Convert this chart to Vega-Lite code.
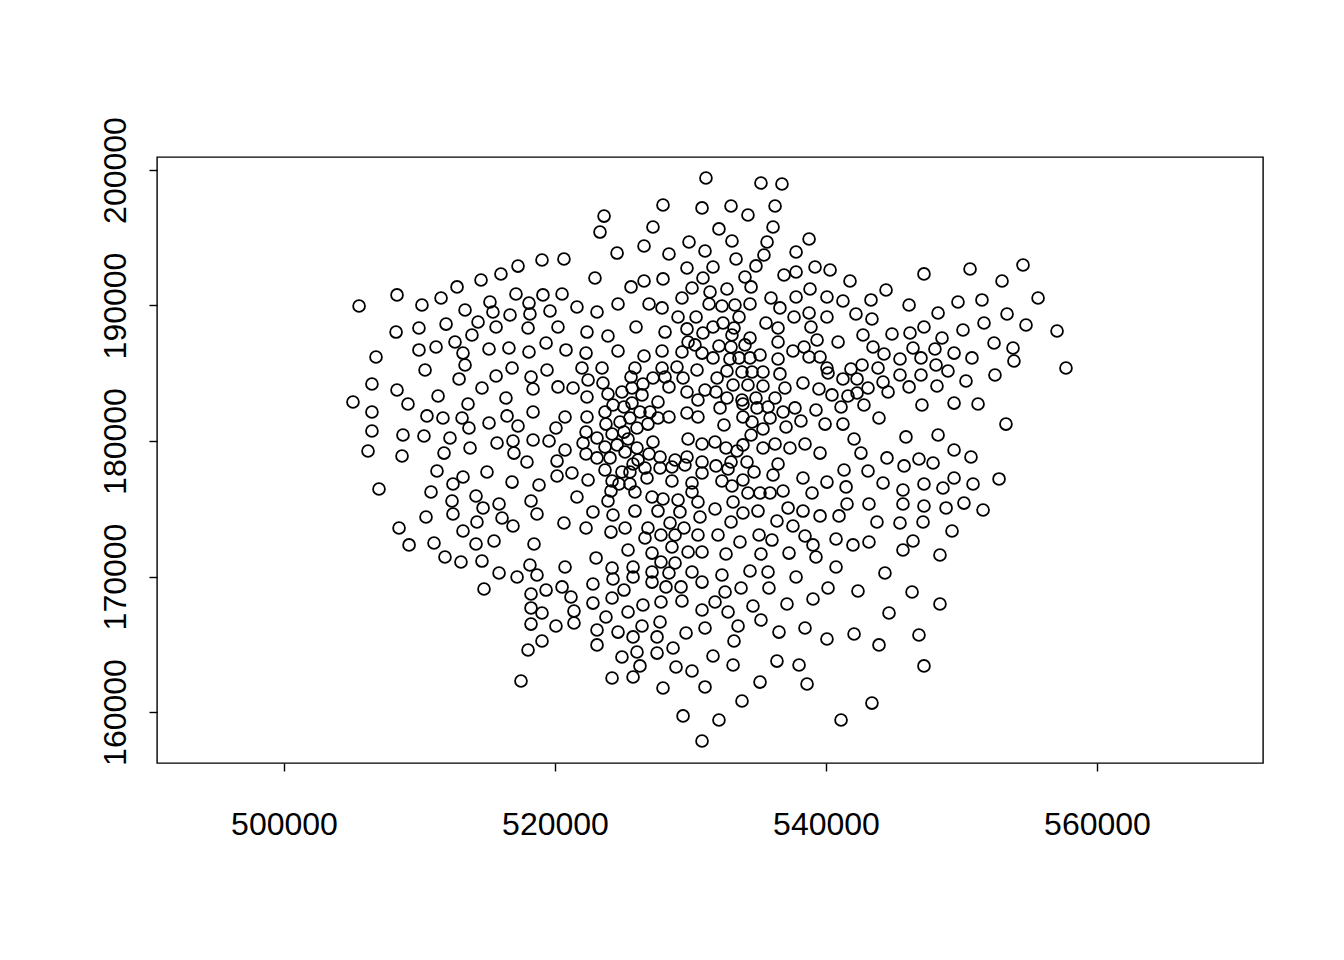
{
"$schema":"https://vega.github.io/schema/vega-lite/v6.json",
"width":1106,"height":606,
"autosize":{"type":"none"},
"padding":{"left":157,"top":157,"right":81,"bottom":197},
"background":"white",
"config":{"view":{"stroke":"black","strokeWidth":1.4},"axis":{"grid":false,"domain":false,"tickColor":"black","tickSize":8,"tickWidth":1.4,"labelColor":"black","labelFont":"Liberation Sans","labelFontSize":32}},
"data":{"values":[
{"x":517270,"y":192910},{"x":516010,"y":192325},{"x":514540,"y":191880},{"x":512770,"y":191370},{"x":508340,"y":190780},{"x":511590,"y":190550},{"x":510180,"y":190040},{"x":505540,"y":189960},{"x":517120,"y":190850},{"x":515200,"y":190260},{"x":513360,"y":189670},{"x":515420,"y":189520},{"x":516680,"y":189300},{"x":511960,"y":188630},{"x":514320,"y":188780},{"x":509960,"y":188340},{"x":515650,"y":188410},{"x":508270,"y":188040},{"x":513870,"y":187820},{"x":512620,"y":187310},{"x":511220,"y":186940},{"x":509960,"y":186720},{"x":515130,"y":186790},{"x":516600,"y":186860},{"x":513210,"y":186490},{"x":506790,"y":186200},
{"x":531140,"y":199410},{"x":527970,"y":197420},{"x":530850,"y":197200},{"x":523620,"y":196600},{"x":527230,"y":195790},{"x":523320,"y":195420},{"x":529890,"y":194690},{"x":526570,"y":194390},{"x":524580,"y":193870},{"x":528410,"y":193800},{"x":531070,"y":194020},{"x":519040,"y":193360},{"x":520660,"y":193430},{"x":529740,"y":192770},{"x":522950,"y":192030},{"x":526570,"y":191810},{"x":527970,"y":191960},{"x":530920,"y":192030},{"x":525610,"y":191370},{"x":530110,"y":191290},{"x":519110,"y":190780},{"x":520520,"y":190850},{"x":518080,"y":190180},{"x":518150,"y":189370},{"x":529370,"y":190550},{"x":531440,"y":191000},{"x":521620,"y":189890},{"x":523100,"y":189520},{"x":524650,"y":190110},{"x":526940,"y":190110},{"x":527900,"y":189820},{"x":519630,"y":189590},{"x":531370,"y":190110},{"x":529080,"y":189150},{"x":530410,"y":189150},{"x":518010,"y":188340},{"x":520220,"y":188410},{"x":522360,"y":188040},{"x":523910,"y":187750},{"x":525980,"y":188410},{"x":528120,"y":188040},{"x":529740,"y":188270},{"x":530920,"y":187970},{"x":519340,"y":187230},{"x":518080,"y":186570},{"x":520810,"y":186720},{"x":522290,"y":186490},{"x":524650,"y":186640},{"x":526570,"y":186270},{"x":527900,"y":186640},{"x":529370,"y":186570},{"x":529820,"y":187310},{"x":530330,"y":187090},{"x":530850,"y":186490},
{"x":535200,"y":199040},{"x":536750,"y":198970},{"x":532990,"y":197340},{"x":534240,"y":196680},{"x":536240,"y":197340},{"x":532100,"y":195650},{"x":536090,"y":195790},{"x":533060,"y":194760},{"x":535650,"y":194690},{"x":538750,"y":194910},{"x":537790,"y":193950},{"x":535420,"y":193730},{"x":533360,"y":193430},{"x":531660,"y":192840},{"x":534830,"y":192920},{"x":539190,"y":192840},{"x":540300,"y":192620},{"x":537790,"y":192470},{"x":536900,"y":192250},{"x":541770,"y":191810},{"x":534020,"y":192100},{"x":534470,"y":191370},{"x":532690,"y":191220},{"x":544430,"y":191140},{"x":538820,"y":191220},{"x":540070,"y":190630},{"x":535940,"y":190550},{"x":537790,"y":190630},{"x":541250,"y":190330},{"x":543320,"y":190410},{"x":534390,"y":190110},{"x":533280,"y":190040},{"x":532320,"y":189960},{"x":536600,"y":189820},{"x":538750,"y":189450},{"x":533580,"y":189150},{"x":537640,"y":189150},{"x":540070,"y":189150},{"x":542210,"y":189370},{"x":543390,"y":189000},{"x":532400,"y":188710},{"x":535570,"y":188710},{"x":531660,"y":188410},{"x":533210,"y":188340},{"x":536460,"y":188340},{"x":538890,"y":188410},{"x":533060,"y":187820},{"x":534390,"y":187600},{"x":542730,"y":187820},{"x":544870,"y":187900},{"x":539340,"y":187450},{"x":540890,"y":187310},{"x":536460,"y":187310},{"x":532100,"y":187010},{"x":532990,"y":186940},{"x":534020,"y":187090},{"x":538380,"y":186940},{"x":543470,"y":186940},{"x":537560,"y":186640},{"x":544280,"y":186420},{"x":535130,"y":186350},{"x":531660,"y":186130},{"x":532910,"y":186050},{"x":533580,"y":186130},{"x":534390,"y":186130},{"x":536460,"y":186050},{"x":538750,"y":186200},{"x":539560,"y":186200},
{"x":547230,"y":192330},{"x":550630,"y":192690},{"x":554540,"y":192990},{"x":552990,"y":191810},{"x":546130,"y":190040},{"x":549740,"y":190260},{"x":551510,"y":190410},{"x":555650,"y":190550},{"x":548270,"y":189450},{"x":553360,"y":189370},{"x":546200,"y":187970},{"x":547230,"y":188410},{"x":548560,"y":187600},{"x":550110,"y":188190},{"x":551660,"y":188710},{"x":554760,"y":188560},{"x":557050,"y":188120},{"x":546420,"y":186860},{"x":548040,"y":186790},{"x":549450,"y":186490},{"x":552400,"y":187230},{"x":553800,"y":186860},{"x":545460,"y":186050},{"x":547010,"y":186130},{"x":550770,"y":186130},{"x":553870,"y":185900},{"x":548120,"y":185610},
{"x":510410,"y":185240},{"x":513360,"y":185610},{"x":516830,"y":185390},{"x":506490,"y":184210},{"x":508340,"y":183760},{"x":512920,"y":184580},{"x":515650,"y":184800},{"x":514610,"y":183910},{"x":505090,"y":182880},{"x":509150,"y":182730},{"x":511370,"y":183320},{"x":513580,"y":182730},{"x":516380,"y":183170},{"x":506490,"y":182140},{"x":510550,"y":181850},{"x":511730,"y":181700},{"x":513140,"y":181700},{"x":515130,"y":181330},{"x":516460,"y":181850},{"x":517270,"y":181110},{"x":513650,"y":180960},{"x":506490,"y":180740},{"x":508780,"y":180440},{"x":510330,"y":180370},{"x":512250,"y":180220},{"x":515720,"y":179850},{"x":516900,"y":180000},{"x":506200,"y":179260},{"x":508710,"y":178890},{"x":511810,"y":179110},{"x":513730,"y":179480},{"x":516970,"y":179110},{"x":511290,"y":177790},{"x":514980,"y":177710},{"x":513210,"y":177340},{"x":512470,"y":176830},{"x":516830,"y":176970},{"x":507010,"y":176460},{"x":510850,"y":176240},{"x":514170,"y":175940},{"x":512400,"y":175570},{"x":514690,"y":175060},{"x":515870,"y":175350},{"x":510480,"y":174390},{"x":512470,"y":174610},{"x":514240,"y":174020},{"x":516090,"y":174320},{"x":516900,"y":173730},{"x":508490,"y":173580},{"x":513210,"y":173360},{"x":509230,"y":172330},{"x":511070,"y":172470},{"x":514170,"y":172400},{"x":515500,"y":172620},{"x":511880,"y":171440},{"x":513060,"y":171070},{"x":514610,"y":171140},
{"x":515870,"y":170260},{"x":517200,"y":169960},{"x":514760,"y":169080},{"x":517490,"y":162290},
{"x":519410,"y":185240},{"x":521990,"y":185390},{"x":523470,"y":185390},{"x":525900,"y":185390},{"x":527900,"y":185390},{"x":529000,"y":185460},{"x":530480,"y":185240},{"x":518230,"y":184720},{"x":518380,"y":183840},{"x":520220,"y":183990},{"x":521330,"y":183910},{"x":522440,"y":184500},{"x":523540,"y":184280},{"x":525610,"y":184720},{"x":526490,"y":184210},{"x":527230,"y":184650},{"x":528120,"y":184720},{"x":528410,"y":183990},{"x":529450,"y":184650},{"x":529740,"y":183620},{"x":531070,"y":183760},{"x":522360,"y":183250},{"x":523910,"y":183470},{"x":524940,"y":183620},{"x":525680,"y":183910},{"x":526420,"y":183400},{"x":527600,"y":182880},{"x":530550,"y":183030},{"x":518380,"y":182140},{"x":520740,"y":181770},{"x":522360,"y":181770},{"x":523690,"y":182140},{"x":524280,"y":182660},{"x":525090,"y":182510},{"x":525680,"y":182800},{"x":526270,"y":182140},{"x":527010,"y":182140},{"x":528410,"y":181770},{"x":529740,"y":182070},{"x":530550,"y":181770},{"x":520070,"y":180960},{"x":522290,"y":180660},{"x":523760,"y":181250},{"x":524800,"y":181400},{"x":525530,"y":181700},{"x":526050,"y":180960},{"x":526860,"y":181250},{"x":527600,"y":181700},{"x":518380,"y":180070},{"x":519560,"y":180000},{"x":520740,"y":179340},{"x":522070,"y":179850},{"x":523100,"y":180220},{"x":524210,"y":180520},{"x":525090,"y":180660},{"x":525390,"y":180150},{"x":527230,"y":179930},{"x":529820,"y":180150},{"x":530850,"y":179780},{"x":517930,"y":178450},{"x":520150,"y":178520},{"x":522290,"y":179040},{"x":523100,"y":178750},{"x":523690,"y":179560},{"x":524060,"y":178750},{"x":524580,"y":179710},{"x":525170,"y":179190},{"x":526050,"y":179480},{"x":526130,"y":178600},{"x":526940,"y":179040},{"x":527750,"y":178820},{"x":528860,"y":178600},{"x":529740,"y":178820},{"x":530850,"y":178450},{"x":520150,"y":177420},{"x":521250,"y":177640},{"x":522440,"y":177120},{"x":523690,"y":177860},{"x":524940,"y":177710},{"x":525760,"y":178300},{"x":525530,"y":177710},{"x":526640,"y":178010},{"x":527750,"y":178010},{"x":528630,"y":178080},{"x":529590,"y":178230},{"x":530850,"y":177640},{"x":518820,"y":176750},{"x":521620,"y":175870},{"x":524210,"y":177050},{"x":524720,"y":176830},{"x":525530,"y":176830},{"x":526790,"y":177270},{"x":528630,"y":177050},{"x":530110,"y":176900},{"x":518230,"y":175570},{"x":518670,"y":174610},{"x":520660,"y":173950},{"x":522800,"y":174760},{"x":523910,"y":175570},{"x":524130,"y":176310},{"x":525900,"y":176240},{"x":527160,"y":175870},{"x":527970,"y":175720},{"x":529080,"y":175650},{"x":530110,"y":176240},{"x":530550,"y":175500},{"x":522290,"y":173580},{"x":524130,"y":173280},{"x":524280,"y":174540},{"x":525900,"y":174830},{"x":526860,"y":173580},{"x":527600,"y":174830},{"x":528490,"y":173950},{"x":529220,"y":174760},{"x":529520,"y":173580},{"x":530700,"y":174390},{"x":525170,"y":173580},{"x":527820,"y":173060},{"x":528860,"y":173060},{"x":530550,"y":173060},{"x":518450,"y":172400},{"x":523030,"y":171370},{"x":525390,"y":171960},{"x":526640,"y":172840},{"x":527160,"y":171730},{"x":528630,"y":172180},{"x":529820,"y":171810},{"x":530850,"y":171810},
{"x":518150,"y":170850},{"x":520740,"y":170700},{"x":524210,"y":170630},{"x":525760,"y":170700},{"x":527160,"y":170330},{"x":527820,"y":171070},{"x":528860,"y":171000},{"x":530110,"y":170330},{"x":530850,"y":169590},{"x":518670,"y":170110},{"x":520520,"y":169230},{"x":522800,"y":169450},{"x":524280,"y":169820},{"x":525760,"y":169960},{"x":527160,"y":169590},{"x":528410,"y":170260},{"x":528190,"y":169230},{"x":529300,"y":169230},{"x":518230,"y":168710},{"x":519340,"y":169000},{"x":521180,"y":168490},{"x":522800,"y":168040},{"x":524210,"y":168410},{"x":525090,"y":169000},{"x":526490,"y":167900},{"x":527820,"y":168120},{"x":529370,"y":168190},{"x":530850,"y":167530},{"x":518230,"y":167680},{"x":519040,"y":167310},{"x":521400,"y":167450},{"x":525390,"y":167380},{"x":523760,"y":167010},{"x":518230,"y":166490},{"x":520070,"y":166350},{"x":521400,"y":166570},{"x":523100,"y":166050},{"x":524650,"y":165900},{"x":526420,"y":166350},{"x":527750,"y":166640},{"x":531070,"y":166200},{"x":525760,"y":165540},{"x":527530,"y":165540},{"x":529670,"y":165830},{"x":519040,"y":165240},{"x":523100,"y":164950},{"x":518010,"y":164580},{"x":526050,"y":164430},{"x":527530,"y":164350},{"x":528710,"y":164720},{"x":524940,"y":164060},{"x":526270,"y":163400},{"x":528930,"y":163320},{"x":530110,"y":163030},{"x":524210,"y":162510},{"x":525760,"y":162580},{"x":531070,"y":161850},{"x":527970,"y":161770},{"x":529450,"y":159710},{"x":530850,"y":157860},
{"x":532690,"y":185170},{"x":533800,"y":185090},{"x":534540,"y":185090},{"x":535350,"y":185090},{"x":536600,"y":184950},{"x":531960,"y":184650},{"x":533140,"y":184130},{"x":534240,"y":184130},{"x":535350,"y":184060},{"x":536970,"y":183910},{"x":531880,"y":183620},{"x":532690,"y":183170},{"x":533800,"y":183030},{"x":534830,"y":183170},{"x":536240,"y":183170},{"x":532180,"y":182440},{"x":533870,"y":182730},{"x":534910,"y":182440},{"x":535720,"y":182510},{"x":537710,"y":182440},{"x":536830,"y":182140},{"x":533870,"y":181770},{"x":534540,"y":181400},{"x":535870,"y":181700},{"x":538150,"y":181480},{"x":532470,"y":181180},{"x":535350,"y":180890},{"x":537050,"y":181030},{"x":534470,"y":180440},{"x":531810,"y":179930},{"x":532620,"y":179480},{"x":533430,"y":179260},{"x":533870,"y":179710},{"x":535350,"y":179480},{"x":536240,"y":179780},{"x":537340,"y":179480},{"x":538450,"y":179780},{"x":539560,"y":179110},{"x":531880,"y":178160},{"x":532990,"y":178450},{"x":532770,"y":177930},{"x":534170,"y":178450},{"x":534690,"y":177710},{"x":536460,"y":178300},{"x":536090,"y":177490},{"x":538300,"y":177270},{"x":532320,"y":177050},{"x":533060,"y":176680},{"x":533870,"y":177120},{"x":534240,"y":176160},{"x":535130,"y":176160},{"x":535870,"y":176160},{"x":536830,"y":176310},{"x":538970,"y":176160},{"x":540070,"y":176970},{"x":533140,"y":175500},{"x":531810,"y":174980},{"x":533870,"y":174690},{"x":534980,"y":174830},{"x":537200,"y":175060},{"x":538300,"y":174830},{"x":539560,"y":174470},{"x":540960,"y":174470},{"x":541550,"y":175350},{"x":532990,"y":174020},{"x":536380,"y":174100},{"x":537560,"y":173730},{"x":532030,"y":173060},{"x":535060,"y":173060},{"x":536010,"y":172690},{"x":538450,"y":172990},{"x":539040,"y":172330},{"x":533650,"y":172550},{"x":532620,"y":171660},{"x":535200,"y":171660},{"x":537270,"y":171730},{"x":539260,"y":171440},{"x":540740,"y":172770},{"x":541990,"y":172330},{"x":543170,"y":172550},{"x":543760,"y":174020},{"x":543170,"y":175350},{"x":541480,"y":176610},{"x":544210,"y":176900},{"x":543100,"y":177790},{"x":541330,"y":177860},{"x":544500,"y":178750},{"x":542580,"y":179110},{"x":542070,"y":180150},{"x":539930,"y":181250},{"x":541250,"y":181250},{"x":539260,"y":182290},{"x":541110,"y":182510},{"x":542800,"y":182660},{"x":543910,"y":181700},{"x":538300,"y":184280},{"x":539480,"y":183840},{"x":540150,"y":185020},{"x":540440,"y":183400},{"x":541250,"y":184580},{"x":541620,"y":183320},{"x":542290,"y":183540},{"x":542290,"y":184580},{"x":543100,"y":183910},{"x":541840,"y":185310},{"x":543840,"y":185390},{"x":544210,"y":184350},{"x":544580,"y":183620},{"x":540070,"y":185390},{"x":542660,"y":185610},
{"x":545460,"y":184870},{"x":547010,"y":184870},{"x":549000,"y":185170},{"x":550330,"y":184430},{"x":552470,"y":184870},{"x":557710,"y":185390},{"x":546130,"y":183990},{"x":548190,"y":184060},{"x":547080,"y":182660},{"x":549450,"y":182800},{"x":551220,"y":182730},{"x":553280,"y":181250},{"x":545900,"y":180300},{"x":548270,"y":180440},{"x":549450,"y":179340},{"x":550700,"y":178820},{"x":546860,"y":178670},{"x":547900,"y":178380},{"x":545760,"y":178160},{"x":549450,"y":177270},{"x":552770,"y":177200},{"x":547230,"y":176830},{"x":548630,"y":176530},{"x":550850,"y":176830},{"x":545680,"y":176380},{"x":545680,"y":175350},{"x":547230,"y":175200},{"x":548860,"y":175060},{"x":550180,"y":175420},{"x":551590,"y":174910},{"x":545460,"y":173950},{"x":547160,"y":174020},{"x":549300,"y":173360},{"x":546420,"y":172620},{"x":545680,"y":171960},{"x":548410,"y":171590},
{"x":540740,"y":170700},{"x":532320,"y":170110},{"x":534390,"y":170410},{"x":535720,"y":170330},{"x":537790,"y":169960},{"x":544350,"y":170260},{"x":533730,"y":169150},{"x":532550,"y":168860},{"x":535790,"y":169150},{"x":540150,"y":169150},{"x":542360,"y":168930},{"x":531810,"y":168120},{"x":534610,"y":167820},{"x":537120,"y":167970},{"x":539040,"y":168340},{"x":532770,"y":167380},{"x":544650,"y":167310},{"x":535200,"y":166790},{"x":533510,"y":166350},{"x":538450,"y":166200},{"x":536530,"y":165900},{"x":533210,"y":165240},{"x":540070,"y":165390},{"x":542070,"y":165760},{"x":543910,"y":164950},{"x":531660,"y":164130},{"x":533140,"y":163470},{"x":536380,"y":163760},{"x":538010,"y":163470},{"x":535130,"y":162210},{"x":538600,"y":162070},{"x":533800,"y":160810},{"x":543390,"y":160660},{"x":532100,"y":159410},{"x":541110,"y":159410},
{"x":546350,"y":168860},{"x":548410,"y":167970},{"x":546860,"y":165680},{"x":547230,"y":163400}
]},
"mark":{"type":"point","shape":"circle","filled":false,"stroke":"black","strokeWidth":1.8,"size":140,"opacity":1},
"encoding":{
"x":{"field":"x","type":"quantitative","scale":{"domain":[490627,572250],"nice":false,"zero":false},"axis":{"title":null,"values":[500000,520000,540000,560000],"labelPadding":38,"format":"d","labelFlush":false,"labelOverlap":false}},
"y":{"field":"y","type":"quantitative","scale":{"domain":[156237,200959],"nice":false,"zero":false},"axis":{"title":null,"values":[160000,170000,180000,190000,200000],"labelAngle":-90,"labelAlign":"center","labelBaseline":"bottom","labelPadding":17,"format":"d","labelFlush":false,"labelOverlap":false}}
}
}
